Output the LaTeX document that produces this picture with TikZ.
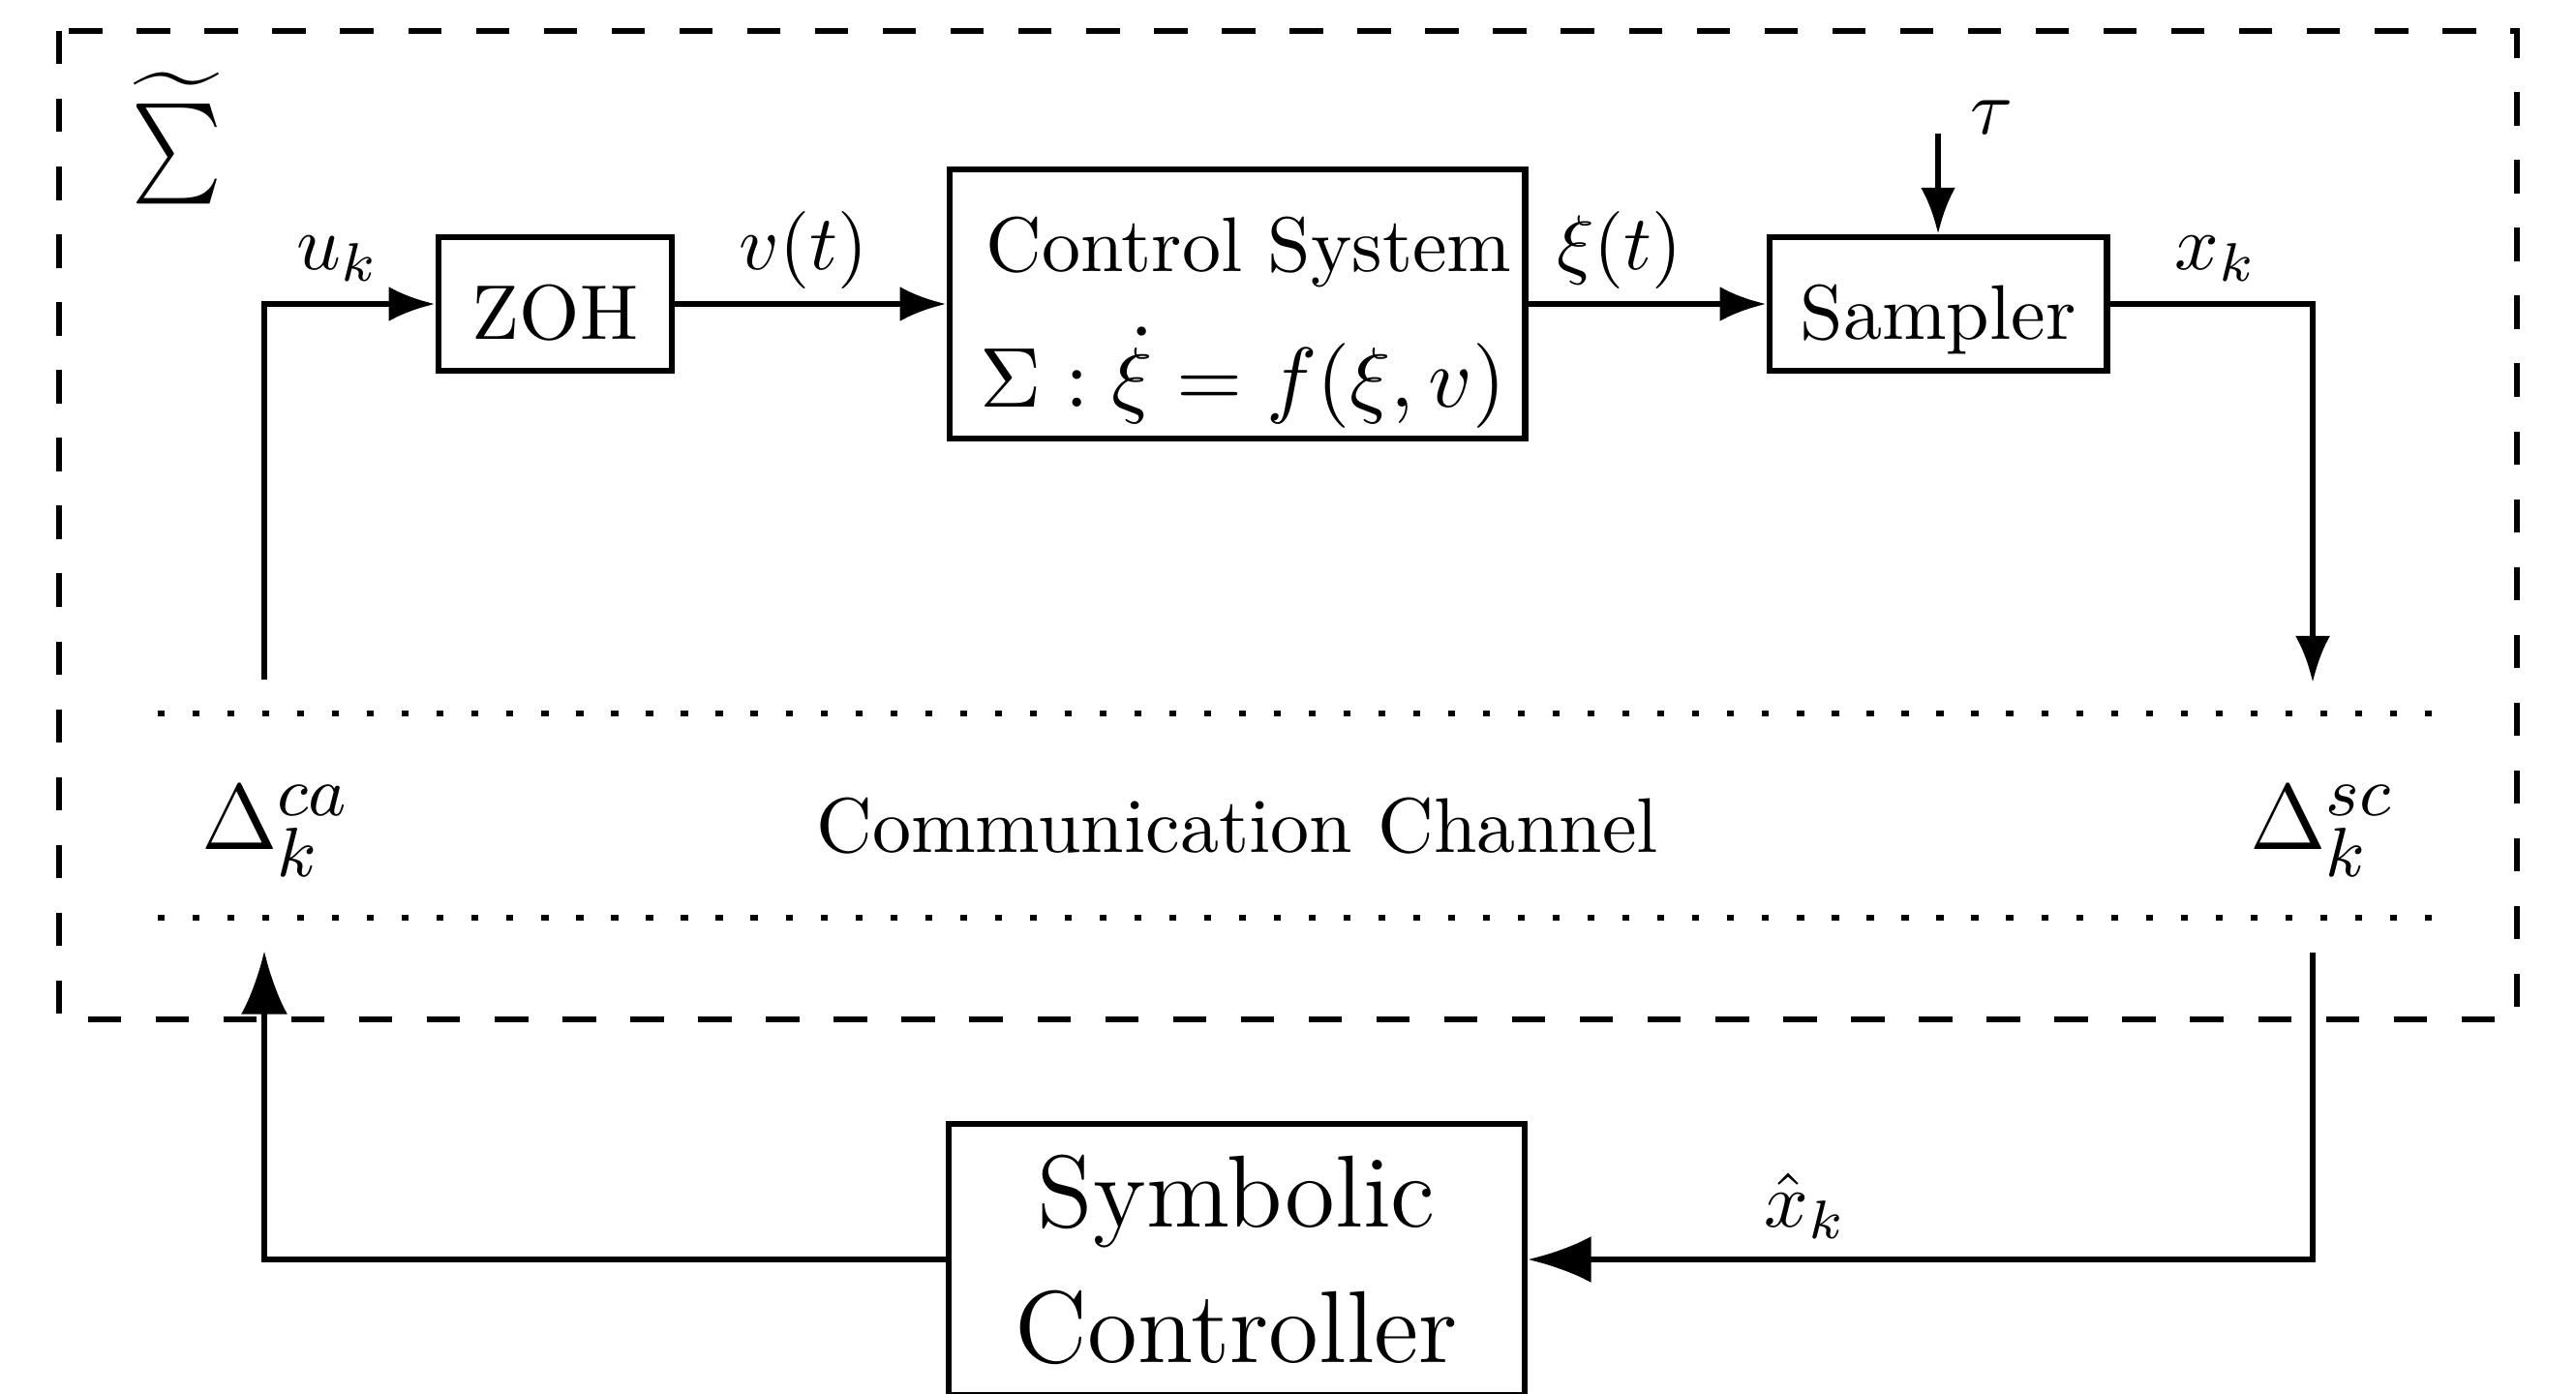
\documentclass[tikz,border=0pt]{standalone}
\usepackage{tikz}
\usetikzlibrary{arrows.meta}

\begin{document}
\begin{tikzpicture}[x=0.439cm, y=-0.439cm, thick,
  blk/.style={draw, rectangle, inner sep=0pt},
  lowtxt/.style={text height=9pt, text depth=0pt},
  arr/.style={-{Latex[length=6pt,width=4.5pt]}},
  bigarr/.style={-{Latex[length=8.2pt,width=6pt]}},
  chan/.style={line width=0.8pt, dash pattern=on 0.9pt off 3.6pt},
  frame/.style={dash pattern=on 4.3pt off 4.45pt}]
\useasboundingbox (0,0) rectangle (26.61,14.39);
%
\draw[frame] (0.61,0.32) rectangle (26.00,10.53);
\node (sigt) at (1.83,1.43) {\scalebox{1.1}[1.29]{$\widetilde{\sum}$}};
%
\node[blk, lowtxt, minimum width=1.06cm, minimum height=0.606cm] (zoh) at (5.735,3.14) {ZOH};
\node[blk, minimum width=2.61cm, minimum height=1.22cm] (ctrl) at (12.78,3.14) {};
\node[anchor=base] (ctrlname) at (12.90,2.80) {Control System};
\node[anchor=base, font=\fontsize{10.9pt}{13pt}\selectfont] (ctrleq) at (12.84,4.20) {$\Sigma:\dot{\xi}=f(\xi,v)$};
\node[blk, lowtxt, minimum width=1.53cm, minimum height=0.606cm] (smp) at (20.02,3.14) {Sampler};
\node[blk, minimum width=2.61cm, minimum height=1.23cm, align=center,
  font=\fontsize{13.2pt}{17.5pt}\selectfont] (sym) at (12.775,13.01) {Symbolic\\Controller};
%
\node[anchor=base] (uk) at (3.49,2.78) {$u_k$};
\node[anchor=base] (vt) at (8.30,2.78) {$v(t)$};
\node[anchor=base] (xit) at (16.73,2.78) {$\xi(t)$};
\node[anchor=base] (xk) at (22.89,2.78) {$x_k$};
\node[anchor=base] (tau) at (20.57,1.38) {$\tau$};
\node[anchor=base] (xhat) at (18.65,12.67) {$\hat{x}_k$};
\node[anchor=base, font=\fontsize{13pt}{15pt}\selectfont] (dca) at (2.85,8.77) {$\Delta_k^{ca}$};
\node[anchor=base, font=\fontsize{13pt}{15pt}\selectfont] (dsc) at (23.99,8.77) {$\Delta_k^{sc}$};
\node[anchor=base] (chname) at (12.78,8.80) {Communication Channel};
%
\coordinate (catop) at (2.73,7.02);
\coordinate (cabot) at (2.73,9.82);
\coordinate (sctop) at (23.89,7.05);
\coordinate (scbot) at (23.89,9.84);
\coordinate (tauin) at (20.02,1.38);
%
\draw[arr] (catop) |- (zoh.west);
\draw[arr] (zoh) -- (ctrl);
\draw[arr] (ctrl) -- (smp);
\draw[arr] (tauin) -- (smp);
\draw[arr] (smp) -| (sctop);
\draw[bigarr] (scbot) |- (sym);
\draw[bigarr] (sym) -| (cabot);
%
\draw[chan] (1.63,7.37) -- (25.38,7.37);
\draw[chan] (1.63,9.48) -- (25.38,9.48);
\end{tikzpicture}
\end{document}
